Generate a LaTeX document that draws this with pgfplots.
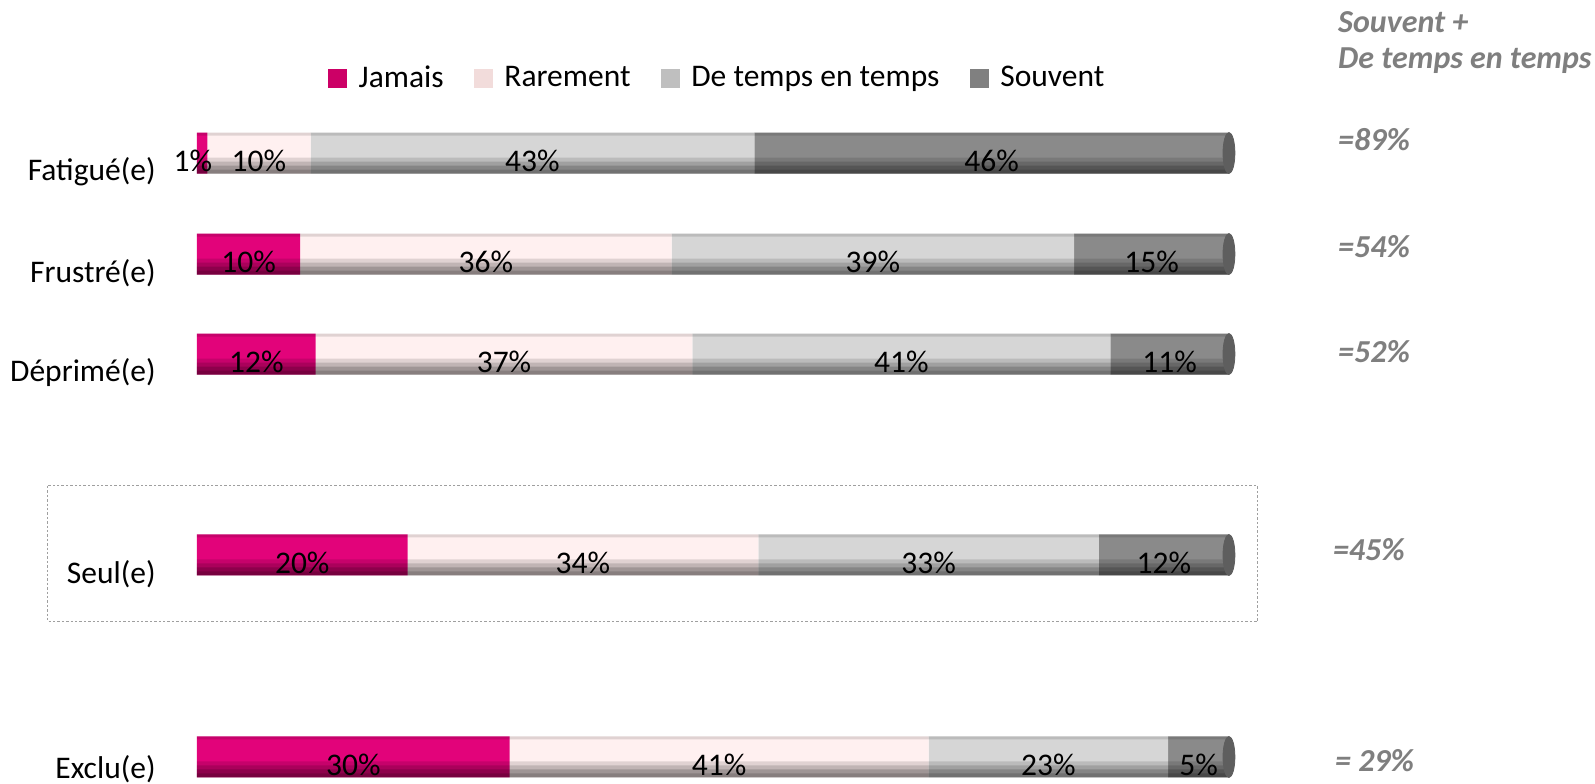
\documentclass[border=0pt]{standalone}
\usepackage{fontspec}
\setmainfont{Carlito}
\usepackage{pgfplots}
\pgfplotsset{compat=1.18}
\usepackage{pgfplotstable}

\definecolor{jm}{HTML}{CC0066}
\definecolor{rr}{HTML}{F2DCDB}
\definecolor{dt}{HTML}{BFBFBF}
\definecolor{sv}{HTML}{808080}
\definecolor{jmM}{HTML}{E2037A}
\definecolor{rrM}{HTML}{FFF0F0}
\definecolor{dtM}{HTML}{D6D6D6}
\definecolor{svM}{HTML}{8A8A8A}
\definecolor{capc}{HTML}{5E5E5E}
\definecolor{annot}{HTML}{7F7F7F}

\pgfplotstableread{
y jam rar tem sou
153 1 10 43 46
254 10 36 39 15
354 11.5 36.5 40.5 11.5
555 20.4 34 33 12.6
757 30.3 40.6 23.2 5.9
}\bars

\pgfplotstableread{
x y lab
-0.4 153 1
6 153 10
32.5 153 43
77 153 46
5 254 10
28 254 36
65.5 254 39
92.5 254 15
5.75 354 12
29.75 354 37
68.25 354 41
94.25 354 11
10.2 555 20
37.4 555 34
70.9 555 33
93.7 555 12
15.15 757 30
50.6 757 41
82.5 757 23
97.05 757 5
}\labs

\pgfplotstableread{
x y
100 153
100 254
100 354
100 555
100 757
}\caps

\begin{document}
\begin{tikzpicture}[font=\fontsize{15.75}{19}\selectfont]
\pgfplotsset{geo/.style={width=516pt, height=392pt, scale only axis,
  xmin=0, xmax=100, ymin=0, ymax=784, y dir=reverse, clip=false}}
\begin{axis}[geo, xbar stacked, bar width=20.5pt,
  axis line style={draw=none}, tick style={draw=none},
  xtick=\empty,
  ytick={153,254,354,555,757},
  yticklabels={Fatigué(e),Frustré(e),Déprimé(e),Seul(e),{\raisebox{3.5pt}[\height][\depth]{Exclu(e)}}},
  yticklabel style={inner sep=0pt, anchor=east, xshift=-20.5pt, yshift=-9.5pt, font=\fontsize{15.75}{19}\selectfont},
  legend columns=4,
  legend style={at={(axis cs:50.5,78)}, anchor=center, draw=none, fill=none,
    font=\fontsize{15.75}{19}\selectfont,
    /tikz/every even column/.append style={column sep=13pt}},
]
\addlegendimage{legend image code/.code={\fill[jm] (0pt,-4.5pt) rectangle (9pt,4.5pt); \path (13pt,0pt);}}
\addlegendentry{Jamais}
\addlegendimage{legend image code/.code={\fill[rr] (0pt,-4.5pt) rectangle (9pt,4.5pt); \path (13pt,0pt);}}
\addlegendentry{Rarement}
\addlegendimage{legend image code/.code={\fill[dt] (0pt,-4.5pt) rectangle (9pt,4.5pt); \path (13pt,0pt);}}
\addlegendentry{De temps en temps}
\addlegendimage{legend image code/.code={\fill[sv] (0pt,-4.5pt) rectangle (9pt,4.5pt); \path (13pt,0pt);}}
\addlegendentry{Souvent}
\addplot[draw=none, fill=jmM] table[x=jam, y=y] {\bars};
\addplot[draw=none, fill=rrM] table[x=rar, y=y] {\bars};
\addplot[draw=none, fill=dtM] table[x=tem, y=y] {\bars};
\addplot[draw=none, fill=svM] table[x=sou, y=y] {\bars};
\end{axis}
\begin{axis}[geo, hide axis]
% shading bands over the bars (negative shift = lower part of the bar)
\addplot[xbar, draw=none, fill=black, fill opacity=0.12, bar width=8pt, bar shift=-6.25pt] table[x=x, y=y] {\caps};
\addplot[xbar, draw=none, fill=black, fill opacity=0.14, bar width=6pt, bar shift=-7.25pt] table[x=x, y=y] {\caps};
\addplot[xbar, draw=none, fill=black, fill opacity=0.17, bar width=4pt, bar shift=-8.25pt] table[x=x, y=y] {\caps};
\addplot[xbar, draw=none, fill=black, fill opacity=0.15, bar width=2pt, bar shift=-9.25pt] table[x=x, y=y] {\caps};
\addplot[xbar, draw=none, fill=black, fill opacity=0.12, bar width=1.5pt, bar shift=9.5pt] table[x=x, y=y] {\caps};
\addplot[color=capc, only marks, mark=*, mark size=10.25pt,
  mark options={xscale=0.29, fill=capc, draw=capc}] table[x=x, y=y] {\caps};
\addplot[draw=none, only marks, mark=none,
  point meta=explicit symbolic,
  nodes near coords={\pgfplotspointmeta\%},
  nodes near coords align={center},
  every node near coord/.append style={yshift=-4pt, text=black, inner sep=0pt,
    font=\fontsize{15.75}{19}\selectfont}] table[x=x, y=y, meta=lab] {\labs};
\node[anchor=west, text=annot, font=\fontsize{16}{19}\selectfont\bfseries\itshape] at (axis cs:109.9,22.4) {Souvent +};
\node[anchor=west, text=annot, font=\fontsize{16}{19}\selectfont\bfseries\itshape] at (axis cs:109.9,61) {De temps en temps};
\node[anchor=west, text=annot, font=\fontsize{16}{19}\selectfont\bfseries\itshape] at (axis cs:109.9,139.4) {=89\%};
\node[anchor=west, text=annot, font=\fontsize{16}{19}\selectfont\bfseries\itshape] at (axis cs:109.9,247) {=54\%};
\node[anchor=west, text=annot, font=\fontsize{16}{19}\selectfont\bfseries\itshape] at (axis cs:109.9,352) {=52\%};
\node[anchor=west, text=annot, font=\fontsize{16}{19}\selectfont\bfseries\itshape] at (axis cs:109.4,550) {=45\%};
\node[anchor=west, text=annot, font=\fontsize{16}{19}\selectfont\bfseries\itshape] at (axis cs:109.6,761) {= 29\%};
\draw[color=gray!75, line width=0.5pt, dash pattern=on 1.2pt off 1pt] (axis cs:-14.46,486) rectangle (axis cs:102.8,621.5);
\coordinate (bbl) at (axis cs:-19.09,784);
\coordinate (bbr) at (axis cs:135.47,0);
\end{axis}
\pgfresetboundingbox
\useasboundingbox (bbl) rectangle (bbr);
\end{tikzpicture}
\end{document}
